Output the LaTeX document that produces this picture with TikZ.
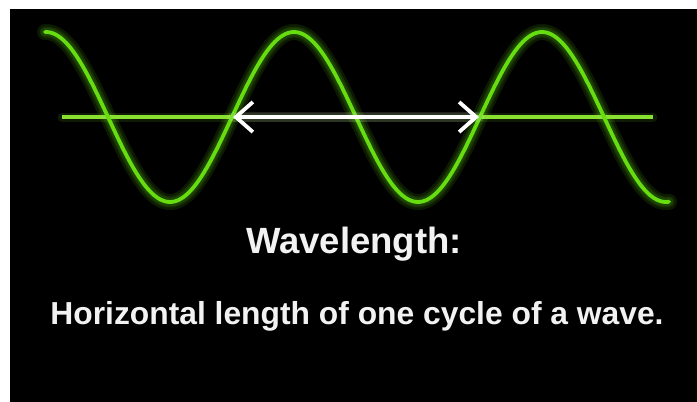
\documentclass[tikz,border=0pt]{standalone}
\usepackage{fontspec}
\setmainfont{Liberation Sans}
\usetikzlibrary{arrows.meta}
\definecolor{wavegreen}{HTML}{66DD11}
\definecolor{axisgreen}{HTML}{88E030}
\definecolor{txt}{HTML}{F2F2F2}
\tikzset{
  glow/.style={line width=#1, opacity=0.12, line cap=round},
  wavemain/.style={draw=wavegreen, line width=3.8pt, line cap=round},
  axisline/.style={draw=axisgreen, line width=3.2pt},
  lambdaarrow/.style={draw=white, line width=3.8pt,
     {Straight Barb[length=17pt, width=30pt, line width=3.8pt]}-{Straight Barb[length=17pt, width=30pt, line width=3.8pt]}},
  title/.style={text=txt, font=\bfseries\fontsize{36.5}{40}\selectfont, inner sep=0pt},
  caption/.style={text=txt, font=\bfseries\fontsize{31.8}{36}\selectfont, inner sep=0pt}
}
\begin{document}
\begin{tikzpicture}[x=1pt, y=-1pt]
  \useasboundingbox (0,0) rectangle (697,402);
  \fill[white] (0,0) rectangle (697,402);
  \fill[black] (10,9) rectangle (697,402);
  % glow layers for the wave
  \foreach \w in {16pt,11pt,8pt}{
    \draw[wavegreen, glow=\w] plot[domain=45:669, samples=240] (\x, {117 - 85*cos(1.4516129*(\x-46))});
  }
  % axis glow and line
  \coordinate (AL) at (62,117);
  \coordinate (AR) at (653,117);
  \draw[axisgreen, glow=9pt] (AL) -- (AR);
  \draw[axisline] (AL) -- (AR);
  % wave
  \draw[wavemain] plot[domain=45:669, samples=240] (\x, {117 - 85*cos(1.4516129*(\x-46))});
  % wavelength arrow
  \coordinate (L) at (233,117);
  \coordinate (R) at (479,117);
  \draw[white, glow=10pt] (L) -- (R);
  \draw[lambdaarrow] (L) -- (R);
  % texts
  \node[title, anchor=base] (t1) at (354,253) {Wavelength:};
  \node[caption, anchor=base] (t2) at (357,324) {Horizontal length of one cycle of a wave.};
\end{tikzpicture}
\end{document}
